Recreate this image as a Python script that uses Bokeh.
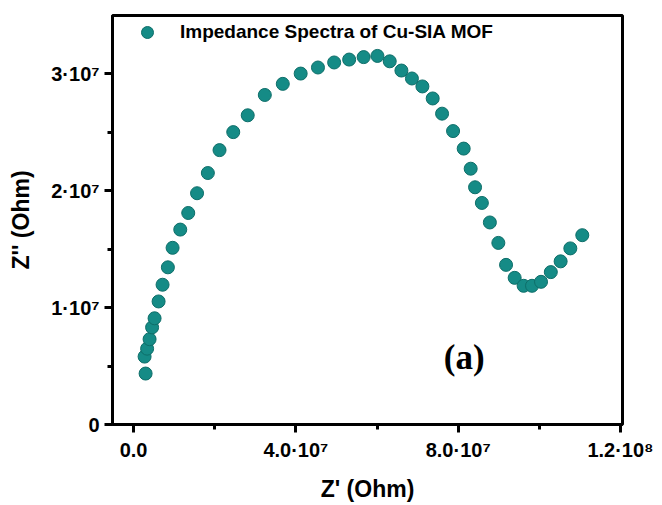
from bokeh.plotting import figure
from bokeh.models import Range1d, FixedTicker, Legend, LegendItem, Label
from bokeh.embed import file_html
from bokeh.resources import INLINE

# Nyquist data (Z' and Z'' in Ohm)
z_real = [0.296e7, 0.271e7, 0.333e7, 0.394e7, 0.456e7, 0.517e7, 0.616e7, 0.714e7,
          0.845e7, 0.961e7, 1.150e7, 1.347e7, 1.564e7, 1.830e7, 2.118e7, 2.456e7,
          2.813e7, 3.234e7, 3.677e7, 4.118e7, 4.544e7, 4.943e7, 5.313e7, 5.670e7,
          6.010e7, 6.313e7, 6.601e7, 6.860e7, 7.118e7, 7.372e7, 7.603e7, 7.874e7,
          8.136e7, 8.308e7, 8.416e7, 8.584e7, 8.781e7, 8.990e7, 9.180e7, 9.392e7,
          9.613e7, 9.820e7, 10.042e7, 10.283e7, 10.525e7, 10.764e7, 11.059e7]
z_imag = [0.436e7, 0.581e7, 0.649e7, 0.730e7, 0.831e7, 0.909e7, 1.053e7, 1.196e7,
          1.345e7, 1.512e7, 1.668e7, 1.810e7, 1.979e7, 2.152e7, 2.348e7, 2.502e7,
          2.646e7, 2.820e7, 2.915e7, 3.003e7, 3.055e7, 3.098e7, 3.123e7, 3.144e7,
          3.154e7, 3.108e7, 3.029e7, 2.961e7, 2.893e7, 2.790e7, 2.660e7, 2.511e7,
          2.361e7, 2.189e7, 2.030e7, 1.896e7, 1.729e7, 1.554e7, 1.366e7, 1.255e7,
          1.187e7, 1.187e7, 1.221e7, 1.304e7, 1.396e7, 1.507e7, 1.620e7]

x_ticks = [0, 40000000, 80000000, 120000000]
x_tick_labels = ["0.0", "4.0\u00b710\u2077", "8.0\u00b710\u2077", "1.2\u00b710\u2078"]
x_minor = [20000000, 60000000, 100000000]
y_ticks = [0, 10000000, 20000000, 30000000]
y_tick_labels = ["0", "1\u00b710\u2077", "2\u00b710\u2077", "3\u00b710\u2077"]
y_minor = [5000000, 15000000, 25000000]

series_name = "Impedance Spectra of Cu-SIA MOF"
panel_tag = "(a)"

FONT = "Liberation Sans"

p = figure(width=662, height=505, output_backend="svg", toolbar_location=None,
           x_range=Range1d(-5.2e6, 1.205e8), y_range=Range1d(0, 3.5e7),
           min_border_left=112, min_border_right=40, min_border_top=15,
           min_border_bottom=81)

p.background_fill_color = "white"
p.border_fill_color = "white"
p.outline_line_color = "black"
p.outline_line_width = 3
p.xgrid.visible = False
p.ygrid.visible = False

r = p.scatter(z_real, z_imag, size=13, fill_color="#158b86", line_color="#0e6e69",
              line_width=1)

for ax, ticks, minor, labels in ((p.xaxis[0], x_ticks, x_minor, x_tick_labels),
                                 (p.yaxis[0], y_ticks, y_minor, y_tick_labels)):
    ax.ticker = FixedTicker(ticks=ticks, minor_ticks=minor)
    ax.major_label_overrides = {t: l for t, l in zip(ticks, labels)}
    ax.axis_line_width = 3
    ax.major_tick_line_width = 3
    ax.minor_tick_line_width = 3
    ax.major_tick_out = 8
    ax.major_tick_in = 0
    ax.minor_tick_out = 5
    ax.minor_tick_in = 0
    ax.major_label_text_font = FONT
    ax.major_label_text_font_style = "bold"
    ax.major_label_text_font_size = "20px"
    ax.major_label_text_color = "black"
    ax.axis_label_text_font = FONT
    ax.axis_label_text_font_style = "bold"
    ax.axis_label_text_font_size = "23px"
    ax.axis_label_text_color = "black"

p.xaxis.axis_label = "Z' (Ohm)"
p.yaxis.axis_label = "Z'' (Ohm)"
p.xaxis.major_label_standoff = 6
p.yaxis.major_label_standoff = 5
p.xaxis.axis_label_standoff = 12
p.yaxis.axis_label_standoff = 14

legend = Legend(items=[LegendItem(label=series_name, renderers=[r])],
                location="top_left", margin=0, padding=2,
                glyph_width=66, glyph_height=30, label_standoff=-2,
                label_text_font=FONT, label_text_font_style="bold",
                label_text_font_size="19px", label_text_color="black",
                background_fill_alpha=0, border_line_alpha=0)
p.add_layout(legend)

p.add_layout(Label(x=8.15e7, y=5.7e6, text=panel_tag, text_font="Liberation Serif",
                   text_font_style="bold", text_font_size="35px",
                   text_align="center", text_baseline="middle", text_color="black"))

open("out.html", "w").write(file_html(p, INLINE))
